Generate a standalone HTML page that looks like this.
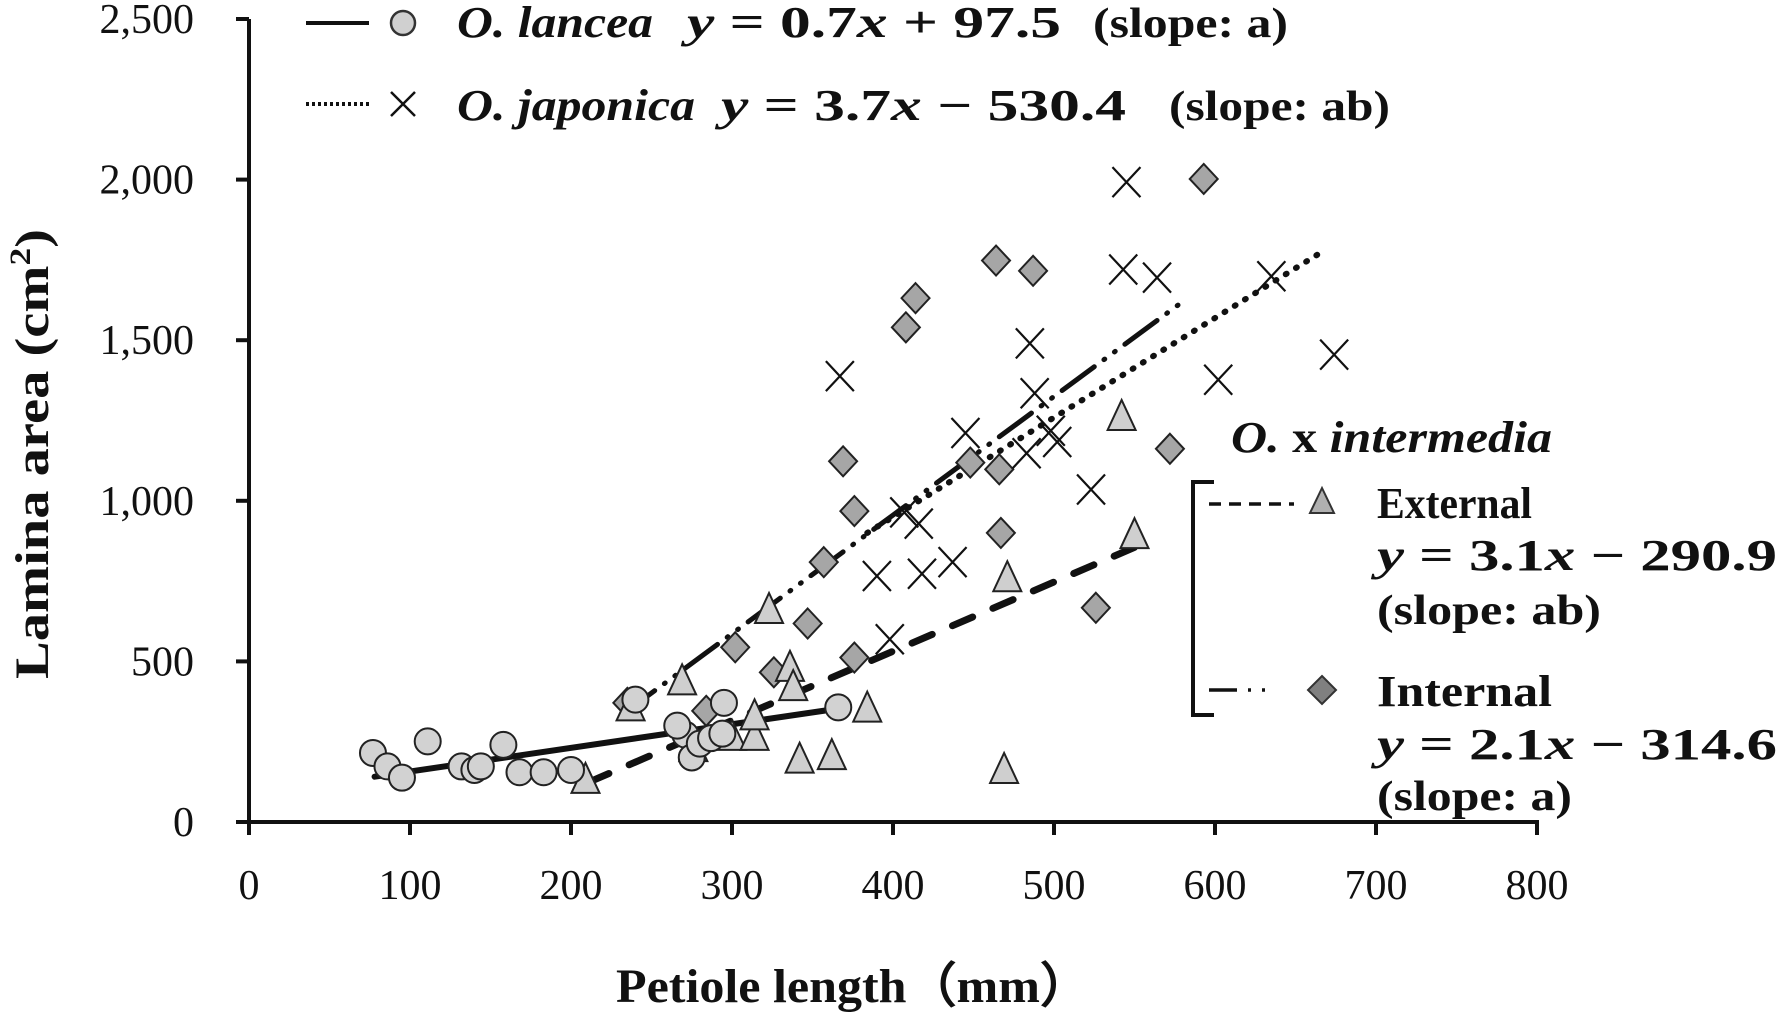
<!DOCTYPE html>
<html><head><meta charset="utf-8"><style>
html,body{margin:0;padding:0;background:#fff;}
svg{display:block;}
text{font-family:"Liberation Serif",serif;fill:#111;}
</style></head><body>
<svg id="chart" width="1780" height="1015" viewBox="0 0 1780 1015" xmlns="http://www.w3.org/2000/svg">
<g id="axes"></g>
<g id="lines"></g>
<g id="marks"></g>
<text transform="translate(48,454) rotate(-90)" text-anchor="middle" font-size="48" font-weight="bold" textLength="450" lengthAdjust="spacingAndGlyphs">Lamina area (cm<tspan font-size="30" dy="-18">2</tspan><tspan dy="18">)</tspan></text>
<text x="853" y="1002" text-anchor="middle" font-size="48" font-weight="bold" textLength="474" lengthAdjust="spacingAndGlyphs">Petiole length（mm）</text>
<g id="legend-top">
  <line x1="306" y1="23" x2="369" y2="23" stroke="#111" stroke-width="4"/>
  <circle cx="403" cy="23" r="12" fill="#d0d0d0" stroke="#333" stroke-width="2.5"/>
  <text x="457" y="37" font-size="44" font-weight="bold" font-style="italic" textLength="196" lengthAdjust="spacingAndGlyphs">O. lancea</text>
  <text x="687" y="37" font-size="44" font-weight="bold" textLength="374" lengthAdjust="spacingAndGlyphs"><tspan font-style="italic">y</tspan> = 0.7<tspan font-style="italic">x</tspan> + 97.5</text>
  <text x="1093" y="37" font-size="42" font-weight="bold" textLength="195" lengthAdjust="spacingAndGlyphs">(slope: a)</text>
  <line x1="306" y1="104" x2="369" y2="104" stroke="#111" stroke-width="4" stroke-dasharray="3,3"/>
  <path d="M391,92 L415,116 M415,92 L391,116" stroke="#111" stroke-width="2.5"/>
  <text x="457" y="120" font-size="44" font-weight="bold" font-style="italic" textLength="238" lengthAdjust="spacingAndGlyphs">O. japonica</text>
  <text x="721" y="120" font-size="44" font-weight="bold" textLength="405" lengthAdjust="spacingAndGlyphs"><tspan font-style="italic">y</tspan> = 3.7<tspan font-style="italic">x</tspan> − 530.4</text>
  <text x="1169" y="120" font-size="42" font-weight="bold" textLength="221" lengthAdjust="spacingAndGlyphs">(slope: ab)</text>
</g>
<g id="legend-right">
  <text x="1231" y="452" font-size="44" font-weight="bold" textLength="321" lengthAdjust="spacingAndGlyphs"><tspan font-style="italic">O.</tspan> x <tspan font-style="italic">intermedia</tspan></text>
  <path d="M1214,482 L1193,482 L1193,715 L1214,715" fill="none" stroke="#111" stroke-width="4"/>
  <line x1="1209" y1="504" x2="1294" y2="504" stroke="#111" stroke-width="3.5" stroke-dasharray="12,8"/>
  <polygon points="1322,488 1310,513 1334,513" fill="#b0b0b0" stroke="#333" stroke-width="2"/>
  <text x="1377" y="518" font-size="44" font-weight="bold" textLength="155" lengthAdjust="spacingAndGlyphs">External</text>
  <text x="1377" y="570" font-size="44" font-weight="bold" textLength="400" lengthAdjust="spacingAndGlyphs"><tspan font-style="italic">y</tspan> = 3.1<tspan font-style="italic">x</tspan> − 290.9</text>
  <text x="1377" y="624" font-size="42" font-weight="bold" textLength="224" lengthAdjust="spacingAndGlyphs">(slope: ab)</text>
  <path d="M1209,690 L1237,690 M1248,690 L1251,690 M1262,690 L1265,690" stroke="#111" stroke-width="3.5"/>
  <polygon points="1322,676 1336,690 1322,704 1308,690" fill="#808080" stroke="#333" stroke-width="2"/>
  <text x="1377" y="706" font-size="44" font-weight="bold" textLength="175" lengthAdjust="spacingAndGlyphs">Internal</text>
  <text x="1377" y="759" font-size="44" font-weight="bold" textLength="400" lengthAdjust="spacingAndGlyphs"><tspan font-style="italic">y</tspan> = 2.1<tspan font-style="italic">x</tspan> − 314.6</text>
  <text x="1377" y="810" font-size="42" font-weight="bold" textLength="195" lengthAdjust="spacingAndGlyphs">(slope: a)</text>
</g>
</svg>
<script>
const xTicks = [0,100,200,300,400,500,600,700,800];
const yTicks = [0,500,1000,1500,2000,2500];
const yTickLabels = ["0","500","1,000","1,500","2,000","2,500"];
const lanceaX = [77,86,95,111,132,140,144,158,168,183,200,271,275,280,287,295,294,366,240,266];
const lanceaY = [215,173,138,251,173,162,173,240,155,155,162,272,201,244,261,371,275,357,381,300];
const externalX = [209,237,269,276,300,314,323,336,338,342,362,384,542,550,469,471,314];
const externalY = [131,357,438,230,265,265,660,480,420,194,205,353,1261,893,162,759,329];
const internalX = [235,284,302,326,347,357,369,376,376,408,414,448,464,466,467,487,526,572,593];
const internalY = [371,346,544,466,618,809,1123,968,512,1540,1631,1119,1748,1098,900,1716,667,1162,2002];
const japonicaX = [367,390,398,407,416,418,437,445,485,488,498,502,523,543,545,564,602,635,674,483];
const japonicaY = [1388,766,569,964,929,773,809,1211,1490,1335,1218,1183,1035,1720,1992,1695,1377,1699,1455,1148];
const lanceaFitX = [78,366];
const lanceaFitY = [141,353];
const japonicaFitX = [384,669];
const japonicaFitY = [900,1783];
const externalFitX = [211,550];
const externalFitY = [124,855];
const internalFitX = [232,581];
const internalFitY = [335,1624];

const NS = "http://www.w3.org/2000/svg";
function sx(v){ return 249 + v*1.61; }
function sy(v){ return 822 - v*0.3212; }
function mk(tag, attrs, parent){
  const e = document.createElementNS(NS, tag);
  for (const k in attrs) e.setAttribute(k, attrs[k]);
  parent.appendChild(e);
  return e;
}
const axes = document.getElementById('axes');
let el = mk('line',{x1:sx(0),y1:sy(2500),x2:sx(0),y2:sy(0),stroke:'#111','stroke-width':4},axes);


el = mk('line',{x1:sx(0)-12,y1:sy(0),x2:sx(800)+2,y2:sy(0),stroke:'#111','stroke-width':4},axes);


xTicks.forEach(function(t){
  const tk = mk('line',{x1:sx(t),y1:sy(0),x2:sx(t),y2:sy(0)+13,stroke:'#111','stroke-width':4},axes);
  
  
  const lb = mk('text',{x:sx(t),y:sy(0)+77,'text-anchor':'middle','font-size':42},axes);
  lb.textContent = String(t);
  
  
});
yTicks.forEach(function(t,i){
  const tk = mk('line',{x1:sx(0)-13,y1:sy(t),x2:sx(0),y2:sy(t),stroke:'#111','stroke-width':4},axes);
  
  
  const lb = mk('text',{x:sx(0)-55,y:sy(t)+14,'text-anchor':'end','font-size':42},axes);
  lb.textContent = yTickLabels[i];
  
  
});
const lines = document.getElementById('lines');
function fit(xs, ys, name, dash, w){
  const l = mk('line',{x1:sx(xs[0]),y1:sy(ys[0]),x2:sx(xs[1]),y2:sy(ys[1]),stroke:'#111','stroke-width':w,'stroke-linecap':'round'},lines);
  if (dash) l.setAttribute('stroke-dasharray', dash);
  
  
}
const marks = document.getElementById('marks');
internalX.forEach(function(x,i){
  const cx = sx(x), cy = sy(internalY[i]);
  const p = mk('polygon',{points:(cx)+','+(cy-15)+' '+(cx+14)+','+cy+' '+cx+','+(cy+15)+' '+(cx-14)+','+cy,fill:'#a6a6a6',stroke:'#222','stroke-width':2},marks);
  
  
});
externalX.forEach(function(x,i){
  const cx = sx(x), cy = sy(externalY[i]);
  const p = mk('polygon',{points:cx+','+(cy-17)+' '+(cx+14)+','+(cy+13)+' '+(cx-14)+','+(cy+13),fill:'#cfcfcf',stroke:'#222','stroke-width':2},marks);
  
  
});
lanceaX.forEach(function(x,i){
  const c = mk('circle',{cx:sx(x),cy:sy(lanceaY[i]),r:13,fill:'#d2d2d2',stroke:'#222','stroke-width':2},marks);
  
  
});
japonicaX.forEach(function(x,i){
  const cx = sx(x), cy = sy(japonicaY[i]);
  const p = mk('path',{d:'M'+(cx-14)+','+(cy-15)+' L'+(cx+14)+','+(cy+15)+' M'+(cx+14)+','+(cy-15)+' L'+(cx-14)+','+(cy+15),stroke:'#111','stroke-width':2.2,fill:'none'},marks);
  
  
});
fit(lanceaFitX, lanceaFitY, 'lancea-fit-line', null, 6);
fit(japonicaFitX, japonicaFitY, 'japonica-fit-line', '1,11', 6);
fit(externalFitX, externalFitY, 'external-fit-line', '22,22', 7);
fit(internalFitX, internalFitY, 'internal-fit-line', '40,12,1,12,1,12', 5);
</script>
</body></html>
